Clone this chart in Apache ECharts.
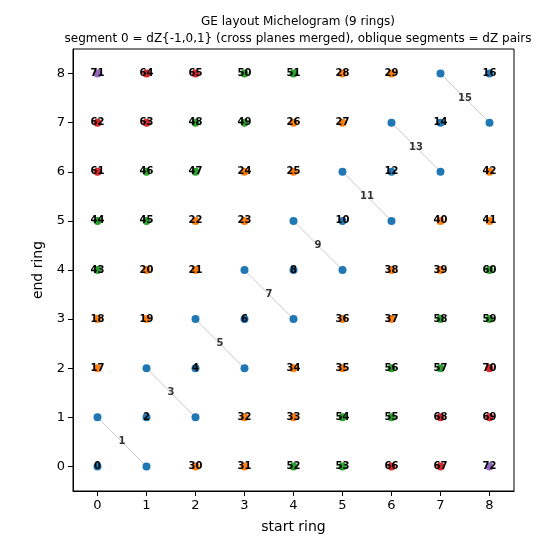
<!DOCTYPE html>
<html>
<head>
<meta charset="utf-8">
<script src="https://cdn.jsdelivr.net/npm/echarts@6/dist/echarts.min.js"></script>
<style>
  html, body { margin: 0; padding: 0; background: #fff; }
  #chart { width: 550px; height: 550px; }
</style>
</head>
<body>
<div id="chart"></div>
<script>
const rings = [0, 1, 2, 3, 4, 5, 6, 7, 8]

// segment number per cell; rows = end ring 0..8, columns = start ring 0..8
const segmentGrid = [
  [0, 1, 30, 31, 52, 53, 66, 67, 72],
  [1, 2, 3, 32, 33, 54, 55, 68, 69],
  [17, 3, 4, 5, 34, 35, 56, 57, 70],
  [18, 19, 5, 6, 7, 36, 37, 58, 59],
  [43, 20, 21, 7, 8, 9, 38, 39, 60],
  [44, 45, 22, 23, 9, 10, 11, 40, 41],
  [61, 46, 47, 24, 25, 11, 12, 13, 42],
  [62, 63, 48, 49, 26, 27, 13, 14, 15],
  [71, 64, 65, 50, 51, 28, 29, 15, 16]
]

// oblique segments drawn as a pair of points joined by a line
const pairedSegments = [1, 3, 5, 7, 9, 11, 13, 15]

// colour groups by segment range
const groupFirst = [0, 17, 43, 61, 71]
const groupLast = [16, 42, 60, 70, 72]
const groupColors = ['#1f77b4', '#ff7f0e', '#2ca02c', '#d62728', '#9467bd']

const FONT = 'DejaVu Sans'

const chart = echarts.init(document.getElementById('chart'), null, { renderer: 'canvas' })

const series = []

// grey connector lines for the paired segments, with label at the middle
const midPoints = []
pairedSegments.forEach(seg => {
  const pts = []
  segmentGrid.forEach((row, end) => {
    row.forEach((s, start) => { if (s === seg) pts.push([start, end]) })
  })
  series.push({
    type: 'line',
    data: pts,
    symbol: 'none',
    silent: true,
    z: 1,
    lineStyle: { color: '#c8c8c8', width: 1 }
  })
  midPoints.push([(pts[0][0] + pts[1][0]) / 2, (pts[0][1] + pts[1][1]) / 2, seg])
})

groupColors.forEach((color, g) => {
  const data = []
  segmentGrid.forEach((row, end) => {
    row.forEach((seg, start) => {
      if (seg >= groupFirst[g] && seg <= groupLast[g]) {
        data.push({
          value: [start, end, seg],
          label: { show: !pairedSegments.includes(seg) }
        })
      }
    })
  })
  series.push({
    type: 'scatter',
    data: data,
    symbolSize: 8,
    z: 2,
    itemStyle: { color: color, opacity: 1 },
    label: {
      position: 'inside',
      formatter: p => String(p.value[2]),
      color: '#000',
      fontFamily: FONT,
      fontWeight: 'bold',
      fontSize: 10
    },
    emphasis: { disabled: true }
  })
})

series.push({
  type: 'scatter',
  data: midPoints,
  symbolSize: 0,
  z: 3,
  label: {
    show: true,
    position: 'inside',
    formatter: p => String(p.value[2]),
    color: '#000',
    fontFamily: FONT,
    fontWeight: 'bold',
    fontSize: 10
  }
})

const axisCommon = {
  type: 'value',
  min: -0.5,
  max: 8.5,
  nameLocation: 'middle',
  nameTextStyle: { fontFamily: FONT, fontSize: 14, color: '#000' },
  axisLine: { show: true, onZero: false, lineStyle: { color: '#000', width: 1 } },
  axisTick: { show: true, length: 5, inside: false, customValues: rings, lineStyle: { color: '#000' } },
  axisLabel: { customValues: rings, fontFamily: FONT, fontSize: 13, color: '#000', margin: 8 },
  splitLine: { show: false }
}

chart.setOption({
  animation: false,
  title: {
    text: 'GE layout Michelogram (9 rings)\nsegment 0 = dZ{-1,0,1} (cross planes merged), oblique segments = dZ pairs',
    left: 293,
    top: 8,
    textAlign: 'center',
    textStyle: { fontFamily: FONT, fontSize: 12, fontWeight: 'normal', color: '#000', lineHeight: 17 }
  },
  grid: {
    left: 73, right: 36, top: 49, bottom: 59,
    show: true, borderColor: '#000', borderWidth: 1, backgroundColor: 'transparent'
  },
  xAxis: Object.assign({}, axisCommon, { name: 'start ring', nameGap: 29 }),
  yAxis: Object.assign({}, axisCommon, { name: 'end ring', nameGap: 24 }),
  series: series
})
</script>
</body>
</html>
